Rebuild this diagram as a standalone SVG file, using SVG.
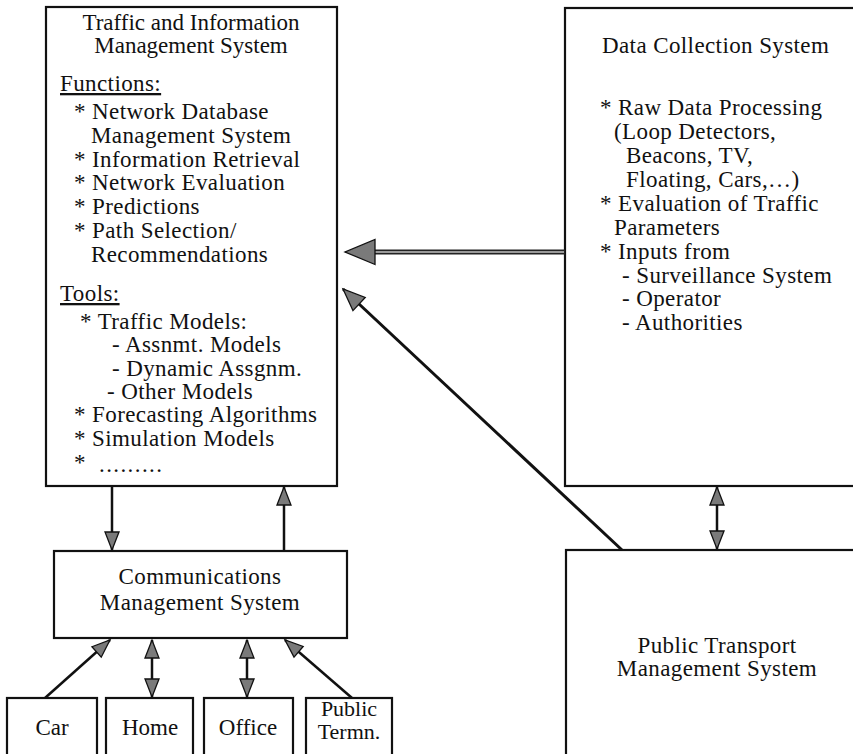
<svg xmlns="http://www.w3.org/2000/svg" width="853" height="754" viewBox="0 0 853 754" font-family="'Liberation Serif', Tinos, 'Times New Roman', 'DejaVu Serif', 'Noto Serif', serif">
<style>
  text { font-family: "Liberation Serif", Tinos, "Times New Roman", "DejaVu Serif", "Noto Serif", serif; font-size: 23px; letter-spacing: 0.4px; fill: #111; }
  .c { text-anchor: middle; }
  .t { letter-spacing: 0; }
  .u { text-decoration: underline; }
  .box { fill: #fff; stroke: #111; stroke-width: 2.2; }
  .ln { stroke: #111; stroke-width: 2.5; fill: none; }
  .dg { stroke: #111; stroke-width: 3; fill: none; }
</style>
<defs>
  <marker id="sm" markerUnits="userSpaceOnUse" markerWidth="22" markerHeight="18" refX="19" refY="8.5" orient="auto-start-reverse" overflow="visible">
    <path d="M1,1.5 L19,8.5 L1,15.5 Z" fill="#7a7a7a" stroke="#111" stroke-width="1.3"/>
  </marker>
  <marker id="md" markerUnits="userSpaceOnUse" markerWidth="26" markerHeight="22" refX="23" refY="10" orient="auto" overflow="visible">
    <path d="M1,1 L23,10 L1,19 Z" fill="#7a7a7a" stroke="#111" stroke-width="1.3"/>
  </marker>
  <marker id="lg" markerUnits="userSpaceOnUse" markerWidth="34" markerHeight="30" refX="31" refY="13.5" orient="auto" overflow="visible">
    <path d="M1,1 L31,13.5 L1,26 Z" fill="#7a7a7a" stroke="#111" stroke-width="1.3"/>
  </marker>
</defs>

<g id="tims">
  <rect class="box" x="46" y="7" width="291" height="479"/>
  <text class="c t" x="191" y="30">Traffic and Information</text>
  <text class="c t" x="191" y="53">Management System</text>
  <text class="u" x="60" y="91">Functions:</text>
  <text x="74" y="119">* Network Database</text>
  <text x="91" y="143">Management System</text>
  <text x="74" y="167">* Information Retrieval</text>
  <text x="74" y="190">* Network Evaluation</text>
  <text x="74" y="214">* Predictions</text>
  <text x="74" y="238">* Path Selection/</text>
  <text x="91" y="262">Recommendations</text>
  <text class="u" x="60" y="301">Tools:</text>
  <text x="80" y="329">* Traffic Models:</text>
  <text x="112" y="352">- Assnmt. Models</text>
  <text x="112" y="376">- Dynamic Assgnm.</text>
  <text x="107" y="399">- Other Models</text>
  <text x="74" y="422">* Forecasting Algorithms</text>
  <text x="74" y="446">* Simulation Models</text>
  <text x="74" y="470">*</text>
  <text x="99" y="472" style="letter-spacing:1.4px">.........</text>
</g>

<g id="data">
  <rect class="box" x="565" y="8" width="300" height="478"/>
  <text x="602" y="53">Data Collection System</text>
  <text x="600" y="115">* Raw Data Processing</text>
  <text x="614" y="139">(Loop Detectors,</text>
  <text x="626" y="163">Beacons, TV,</text>
  <text x="626" y="187">Floating, Cars,…)</text>
  <text x="600" y="211">* Evaluation of Traffic</text>
  <text x="614" y="235">Parameters</text>
  <text x="600" y="259">* Inputs from</text>
  <text x="622" y="283">- Surveillance System</text>
  <text x="622" y="306">- Operator</text>
  <text x="622" y="330">- Authorities</text>
</g>

<g id="comm">
  <rect class="box" x="54" y="551" width="293" height="87"/>
  <text class="c" x="200" y="584">Communications</text>
  <text class="c" x="200" y="610">Management System</text>
</g>

<g id="pt">
  <rect class="box" x="566" y="550" width="300" height="220"/>
  <text class="c" x="717" y="653">Public Transport</text>
  <text class="c" x="717" y="676">Management System</text>
</g>

<g id="car">
  <rect class="box" x="7" y="698" width="90" height="70"/>
  <text class="c t" x="52" y="735">Car</text>
</g>
<g id="home">
  <rect class="box" x="106" y="698" width="87" height="70"/>
  <text class="c t" x="150" y="735">Home</text>
</g>
<g id="office">
  <rect class="box" x="204" y="698" width="89" height="70"/>
  <text class="c t" x="248" y="735">Office</text>
</g>
<g id="termn">
  <rect class="box" x="306" y="698" width="86" height="70"/>
  <text class="c t" x="349" y="716" style="font-size:22px">Public</text>
  <text class="c t" x="349" y="739" style="font-size:22px">Termn.</text>
</g>

<g id="connectors">
  <line x1="565" y1="252" x2="372" y2="252" stroke="#222" stroke-width="5"/>
  <line x1="564" y1="252" x2="345" y2="252" stroke="#9a9a9a" stroke-width="2" marker-end="url(#lg)"/>
  <line class="dg" x1="622" y1="550" x2="343" y2="289" marker-end="url(#md)"/>
  <line class="ln" x1="717" y1="487" x2="717" y2="549" marker-start="url(#sm)" marker-end="url(#sm)"/>
  <line class="ln" x1="112" y1="487" x2="112" y2="550" marker-end="url(#sm)"/>
  <line class="ln" x1="284" y1="550" x2="284" y2="487" marker-end="url(#sm)"/>
  <line class="ln" x1="45" y1="698" x2="110" y2="640" marker-end="url(#sm)"/>
  <line class="ln" x1="152" y1="640" x2="152" y2="697" marker-start="url(#sm)" marker-end="url(#sm)"/>
  <line class="ln" x1="247" y1="640" x2="247" y2="697" marker-start="url(#sm)" marker-end="url(#sm)"/>
  <line class="ln" x1="352" y1="698" x2="285" y2="640" marker-end="url(#sm)"/>
</g>
</svg>
